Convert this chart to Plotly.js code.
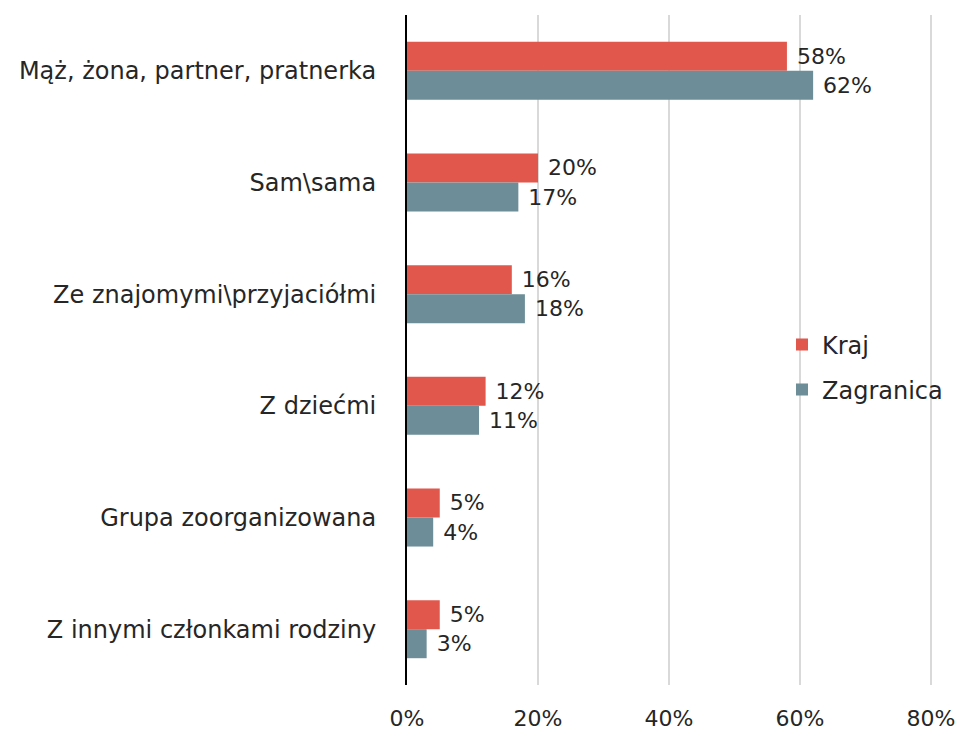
<!DOCTYPE html>
<html>
<head>
<meta charset="utf-8">
<script src="https://cdn.plot.ly/plotly-3.0.1.min.js"></script>
<style>html,body{margin:0;padding:0;background:#fff;}#chart{width:957px;height:731px;}</style>
</head>
<body>
<div id="chart"></div>
<script>
const categories = ["Mąż, żona, partner, pratnerka", "Sam\\sama", "Ze znajomymi\\przyjaciółmi", "Z dziećmi", "Grupa zoorganizowana", "Z innymi członkami rodziny"];
const kraj = [58, 20, 16, 12, 5, 5];
const zagranica = [62, 17, 18, 11, 4, 3];
const xTicks = [0, 20, 40, 60, 80];
const xTickLabels = ["0%", "20%", "40%", "60%", "80%"];

const FONT = "DejaVu Sans";
const TXT = "#262626";
const lblFont = {family: FONT, size: 22, color: TXT};

const traces = [
  {type: "bar", orientation: "h", name: "Kraj", y: categories, x: kraj, legend: "legend",
   marker: {color: "#E2574C"}, text: kraj.map(v => " " + v + "%"), textposition: "outside",
   textfont: lblFont, cliponaxis: false, hoverinfo: "none"},
  {type: "bar", orientation: "h", name: "Zagranica", y: categories, x: zagranica, legend: "legend2",
   marker: {color: "#6D8E98"}, text: zagranica.map(v => " " + v + "%"), textposition: "outside",
   textfont: lblFont, cliponaxis: false, hoverinfo: "none"}
];

const legBase = {xref: "container", yref: "container", xanchor: "left", yanchor: "middle",
                 bgcolor: "rgba(0,0,0,0)", font: {family: FONT, size: 24, color: TXT}, itemwidth: 30};

const layout = {
  width: 957, height: 731,
  margin: {l: 407, r: 24, t: 15, b: 46, autoexpand: false},
  paper_bgcolor: "#fff", plot_bgcolor: "#fff",
  barmode: "group", bargap: 0.48, bargroupgap: 0,
  font: {family: FONT, size: 22, color: TXT},
  xaxis: {range: [0, 80.3], tickvals: xTicks, ticktext: xTickLabels, showgrid: true,
          gridcolor: "#D9D9D9", gridwidth: 2, zeroline: false, showline: false, automargin: false,
          ticks: "", ticklabelstandoff: 18, tickfont: {family: FONT, size: 22, color: TXT}},
  yaxis: {autorange: "reversed", showline: true, linecolor: "#000", linewidth: 2, automargin: false,
          ticks: "", showgrid: false, ticklabelstandoff: 24,
          tickfont: {family: FONT, size: 24, color: TXT}},
  showlegend: true,
  legend: Object.assign({}, legBase, {x: 782 / 957, y: 1 - 345 / 731}),
  legend2: Object.assign({}, legBase, {x: 782 / 957, y: 1 - 390 / 731})
};

Plotly.newPlot("chart", traces, layout, {displayModeBar: false, staticPlot: true});
</script>
</body>
</html>
